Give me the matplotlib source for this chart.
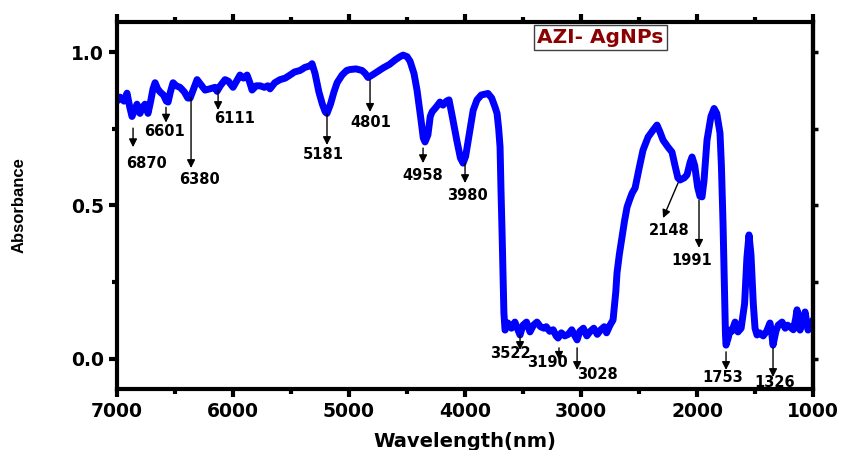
import matplotlib
matplotlib.use('Agg')
import matplotlib.pyplot as plt
from matplotlib.ticker import MultipleLocator

# spectrum (wavelength in nm, absorbance)
wavelength = [
    7000, 6974, 6940, 6914, 6890, 6871, 6850, 6828, 6802, 6780, 6759, 6733,
    6710, 6690, 6672, 6650, 6629, 6600, 6575, 6560, 6540, 6517, 6490, 6457,
    6420, 6390, 6370, 6340, 6310, 6280, 6241, 6200, 6155, 6138, 6110, 6069,
    6040, 6000, 5970, 5940, 5910, 5879, 5855, 5836, 5800, 5767, 5730, 5700,
    5681, 5640, 5595, 5550, 5509, 5470, 5422, 5380, 5336, 5319, 5293, 5260,
    5230, 5205, 5190, 5160, 5130, 5103, 5060, 5020, 4991, 4940, 4888, 4860,
    4836, 4800, 4760, 4707, 4650, 4600, 4560, 4534, 4500, 4474, 4440, 4414,
    4380, 4360, 4345, 4320, 4300, 4284, 4250, 4216, 4190, 4160, 4138, 4110,
    4070, 4040, 4017, 3995, 3960, 3930, 3897, 3860, 3802, 3770, 3741, 3724,
    3710, 3698, 3690, 3680, 3672, 3665, 3655, 3630, 3600, 3570, 3550, 3526,
    3500, 3470, 3440, 3410, 3380, 3350, 3320, 3300, 3270, 3240, 3215, 3198,
    3170, 3140, 3110, 3080, 3060, 3034, 3010, 2980, 2950, 2920, 2890, 2860,
    2830, 2800, 2780, 2750, 2724, 2700, 2690, 2670, 2647, 2625, 2603, 2580,
    2560, 2534, 2500, 2466, 2422, 2380, 2345, 2320, 2293, 2250, 2216, 2190,
    2165, 2147, 2110, 2086, 2060, 2043, 2020, 1995, 1975, 1957, 1940, 1914,
    1880, 1853, 1830, 1802, 1790, 1776, 1765, 1755, 1750, 1730, 1716, 1700,
    1672, 1647, 1620, 1590, 1570, 1552, 1535, 1515, 1500, 1483, 1460, 1430,
    1400, 1371, 1355, 1345, 1320, 1300, 1267, 1240, 1220, 1198, 1170, 1150,
    1138, 1125, 1112, 1090, 1069, 1055, 1043, 1020, 1000,
]
absorbance = [
    0.84, 0.853, 0.84, 0.866, 0.82, 0.79, 0.81, 0.83, 0.80, 0.82, 0.83, 0.80,
    0.84, 0.88, 0.90, 0.88, 0.87, 0.86, 0.84, 0.837, 0.87, 0.90, 0.89, 0.885,
    0.87, 0.85, 0.85, 0.88, 0.91, 0.895, 0.876, 0.88, 0.885, 0.872, 0.89, 0.91,
    0.905, 0.885, 0.905, 0.925, 0.915, 0.925, 0.90, 0.876, 0.89, 0.89, 0.885, 0.89,
    0.88, 0.90, 0.91, 0.915, 0.925, 0.935, 0.94, 0.95, 0.955, 0.962, 0.93, 0.87,
    0.83, 0.805, 0.80, 0.83, 0.87, 0.90, 0.925, 0.94, 0.943, 0.945, 0.94, 0.93,
    0.917, 0.925, 0.935, 0.948, 0.96, 0.975, 0.985, 0.99, 0.985, 0.97, 0.93, 0.876,
    0.78, 0.72, 0.707, 0.73, 0.79, 0.805, 0.82, 0.837, 0.827, 0.84, 0.844, 0.79,
    0.71, 0.655, 0.638, 0.66, 0.74, 0.81, 0.844, 0.86, 0.865, 0.85, 0.82, 0.80,
    0.75, 0.69, 0.55, 0.40, 0.26, 0.15, 0.094, 0.117, 0.10, 0.12, 0.10, 0.078,
    0.11, 0.12, 0.088, 0.11, 0.12, 0.105, 0.10, 0.105, 0.09, 0.095, 0.075, 0.068,
    0.085, 0.075, 0.08, 0.095, 0.08, 0.062, 0.09, 0.10, 0.075, 0.09, 0.10, 0.08,
    0.095, 0.105, 0.085, 0.11, 0.127, 0.22, 0.28, 0.34, 0.397, 0.45, 0.495, 0.52,
    0.54, 0.557, 0.62, 0.68, 0.723, 0.745, 0.762, 0.74, 0.713, 0.69, 0.674, 0.63,
    0.59, 0.583, 0.59, 0.60, 0.64, 0.658, 0.63, 0.56, 0.53, 0.528, 0.58, 0.713,
    0.79, 0.816, 0.80, 0.736, 0.63, 0.443, 0.25, 0.08, 0.045, 0.07, 0.094, 0.09,
    0.12, 0.088, 0.10, 0.18, 0.33, 0.404, 0.34, 0.18, 0.10, 0.078, 0.085, 0.075,
    0.09, 0.117, 0.08, 0.045, 0.09, 0.11, 0.12, 0.10, 0.11, 0.104, 0.095, 0.13,
    0.16, 0.13, 0.094, 0.12, 0.153, 0.12, 0.094, 0.11, 0.127,
]

# peak labels
peak_labels = ['6870', '6601', '6380', '6111', '5181', '4801', '4958',
               '3980', '2148', '1991', '3522', '3190', '3028', '1753', '1326']
# arrow (x0, y0) -> (x1, y1), then label centre (tx, ty)
arrow_from = [(6862, 0.752), (6578, 0.82), (6362, 0.853), (6129, 0.876),
              (5190, 0.80), (4819, 0.909), (4362, 0.687), (4000, 0.638),
              (2164, 0.573), (1983, 0.518), (3526, 0.078), (3190, 0.036),
              (3034, 0.036), (1750, 0.023), (1345, 0.036)]
arrow_to = [(6862, 0.69), (6578, 0.77), (6362, 0.622), (6129, 0.811),
            (5190, 0.697), (4819, 0.805), (4362, 0.638), (4000, 0.573),
            (2293, 0.459), (1983, 0.362), (3526, 0.029), (3190, -0.003),
            (3034, -0.036), (1750, -0.036), (1345, -0.059)]
label_pos = [(6750, 0.638), (6595, 0.74), (6293, 0.583), (5983, 0.785),
             (5224, 0.665), (4810, 0.769), (4362, 0.599), (3975, 0.534),
             (2241, 0.42), (2043, 0.322), (3612, 0.016), (3293, -0.013),
             (2862, -0.052), (1776, -0.062), (1328, -0.078)]

fig = plt.figure(figsize=(8.42, 4.5), dpi=100)
ax = fig.add_axes([0.139, 0.1356, 0.8266, 0.8156])

ax.plot(wavelength, absorbance, color='#0000ff', lw=5,
        solid_joinstyle='round', solid_capstyle='round')

for lab, a0, a1, tp in zip(peak_labels, arrow_from, arrow_to, label_pos):
    ax.annotate('', xy=a1, xytext=a0,
                arrowprops=dict(arrowstyle='-|>', color='black', lw=1,
                                mutation_scale=12, shrinkA=0, shrinkB=0))
    ax.text(tp[0], tp[1], lab, ha='center', va='center',
            fontsize=10.5, fontweight='bold', family='DejaVu Sans')

ax.text(2832, 1.047, 'AZI- AgNPs', ha='center', va='center',
        fontsize=14.5, fontweight='bold', color='#8b0000',
        family='DejaVu Sans',
        bbox=dict(boxstyle='square,pad=0.15', fc='white', ec='#404040', lw=1))

ax.set_xlim(7000, 1000)
ax.set_ylim(-0.098, 1.098)
ax.xaxis.set_major_locator(MultipleLocator(1000))
ax.xaxis.set_minor_locator(MultipleLocator(500))
ax.yaxis.set_major_locator(MultipleLocator(0.5))
ax.yaxis.set_minor_locator(MultipleLocator(0.25))

for s in ax.spines.values():
    s.set_linewidth(3)
ax.tick_params(which='both', direction='out', width=3, top=True, right=True,
               labelright=False, labeltop=False)
ax.tick_params(which='major', length=6)
ax.tick_params(which='minor', length=3.5)
ax.tick_params(axis='y', which='major', right=False)
ax.tick_params(axis='y', which='minor', right=True)
# right side carries short ticks at every 0.25
ax2 = ax.twinx()
ax2.set_ylim(ax.get_ylim())
ax2.yaxis.set_major_locator(MultipleLocator(0.25))
ax2.tick_params(axis='y', direction='out', width=2.5, length=3.5,
                labelright=False)
ax2.spines['right'].set_linewidth(3)

for lbl in ax.get_xticklabels() + ax.get_yticklabels():
    lbl.set_fontweight('bold')
    lbl.set_fontsize(13.5)
    lbl.set_family('DejaVu Sans')

ax.set_xlabel('Wavelength(nm)', fontsize=14, fontweight='bold',
              family='DejaVu Sans', labelpad=8)
ax.set_ylabel('Absorbance', fontsize=12, fontweight='bold',
              family='Liberation Sans', labelpad=32)

fig.savefig('out.png', dpi=100)
